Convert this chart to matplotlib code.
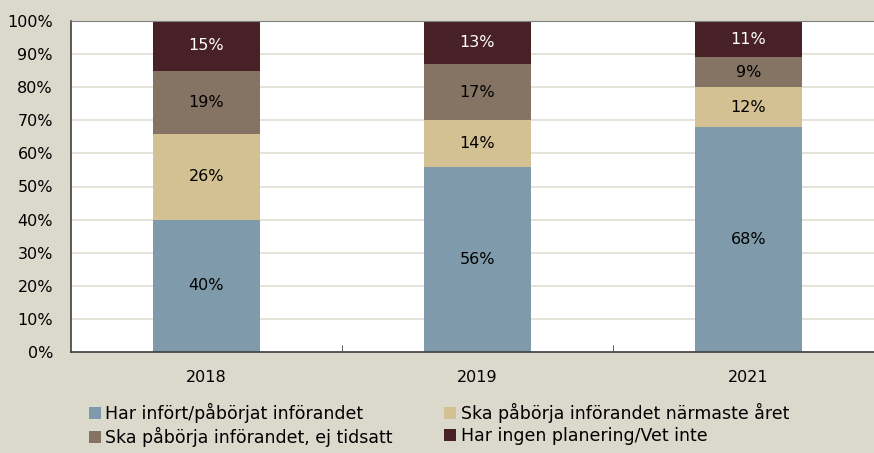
import matplotlib
matplotlib.use('Agg')
import matplotlib.pyplot as plt
import numpy as np

# Chart data
years = ['2018', '2019', '2021']
infort = [40, 56, 68]
narmaste = [26, 14, 12]
ej_tidsatt = [19, 17, 9]
ingen_plan = [15, 13, 11]

series = [
    ('Har infört/påbörjat införandet', infort, '#7f9bab', 'black'),
    ('Ska påbörja införandet närmaste året', narmaste, '#d3c093', 'black'),
    ('Ska påbörja införandet, ej tidsatt', ej_tidsatt, '#857463', 'black'),
    ('Har ingen planering/Vet inte', ingen_plan, '#472126', 'white'),
]

plt.rcParams['font.family'] = ['DejaVu Sans']
bg = '#dbd8cc'
fs = 11.5

fig = plt.figure(figsize=(8.74, 4.53), dpi=100, facecolor=bg)
ax = fig.add_axes([71 / 874, 101 / 453, 813 / 874, 331 / 453])
ax.set_facecolor('white')

x = np.arange(len(years))
bottom = np.zeros(len(years))
bars = []
for name, vals, col, tcol in series:
    vals = np.array(vals, dtype=float)
    b = ax.bar(x, vals, 0.395, bottom=bottom, color=col, label=name, zorder=2)
    bars.append(b)
    for xi, v, bo in zip(x, vals, bottom):
        ax.text(xi, bo + v / 2, '%d%%' % v, ha='center', va='center',
                color=tcol, fontsize=fs, zorder=3)
    bottom += vals

ax.set_xlim(-0.5, 2.5)
ax.set_ylim(0, 100)
ax.set_yticks(np.arange(0, 101, 10))
ax.set_yticklabels(['%d%%' % v for v in range(0, 101, 10)], fontsize=fs)
ax.yaxis.grid(True, color='#e0ddd3', lw=1.2, zorder=0)
ax.tick_params(axis='y', length=0, pad=13)

ax.set_xticks(x)
ax.set_xticklabels(years, fontsize=fs)
ax.tick_params(axis='x', length=0, pad=13)
ax.set_xticks([0.5, 1.5], minor=True)
ax.tick_params(axis='x', which='minor', direction='in', length=5, color='#404040')

for s in ['left', 'bottom']:
    ax.spines[s].set_color('#404040')
    ax.spines[s].set_linewidth(1.2)
ax.spines['top'].set_color('#808080')
ax.spines['right'].set_visible(False)

handles = [bars[0], bars[2], bars[1], bars[3]]
labels = [series[0][0], series[2][0], series[1][0], series[3][0]]
leg = fig.legend(handles, labels, ncol=2, loc='upper left',
                 bbox_to_anchor=(89 / 874, 1 - 403 / 453), frameon=False,
                 fontsize=12.5, handlelength=0.7, handleheight=0.7,
                 handletextpad=0.25, columnspacing=2.95, labelspacing=0.22,
                 borderaxespad=0, borderpad=0)

fig.savefig('out.png', dpi=100, facecolor=bg)
